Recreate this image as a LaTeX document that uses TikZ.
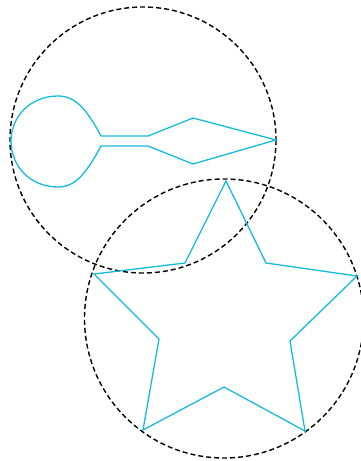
\documentclass[tikz,border=0pt]{standalone}
\begin{document}
\begin{tikzpicture}[x=1pt,y=-1pt,
  cyanline/.style={draw={rgb,255:red,20;green,188;blue,220},line width=1.3pt,line join=miter},
  ring/.style={draw=black,line width=1.4pt,dash pattern=on 5pt off 3pt}]
\useasboundingbox (0,0) rectangle (361,461);
\draw[ring] (143,140) circle[radius=133];
\draw[ring] (224,318.5) circle[radius=139.5];
% keyhole
\draw[cyanline] (101,136) .. controls (86,108) and (75,96) .. (58,96)
  .. controls (30,96) and (11,117) .. (11,141)
  .. controls (11,166) and (30,187) .. (58,187)
  .. controls (75,187) and (86,174) .. (101,146)
  -- (148,146) -- (193,164) -- (276,140) -- (193,118) -- (148,136) -- cycle;
% star
\draw[cyanline] (226,181) -- (266,263) -- (357,276) -- (290,341) -- (305,431)
  -- (224,387) -- (143,430) -- (159,339) -- (94,274) -- (185,263) -- cycle;
\end{tikzpicture}
\end{document}
